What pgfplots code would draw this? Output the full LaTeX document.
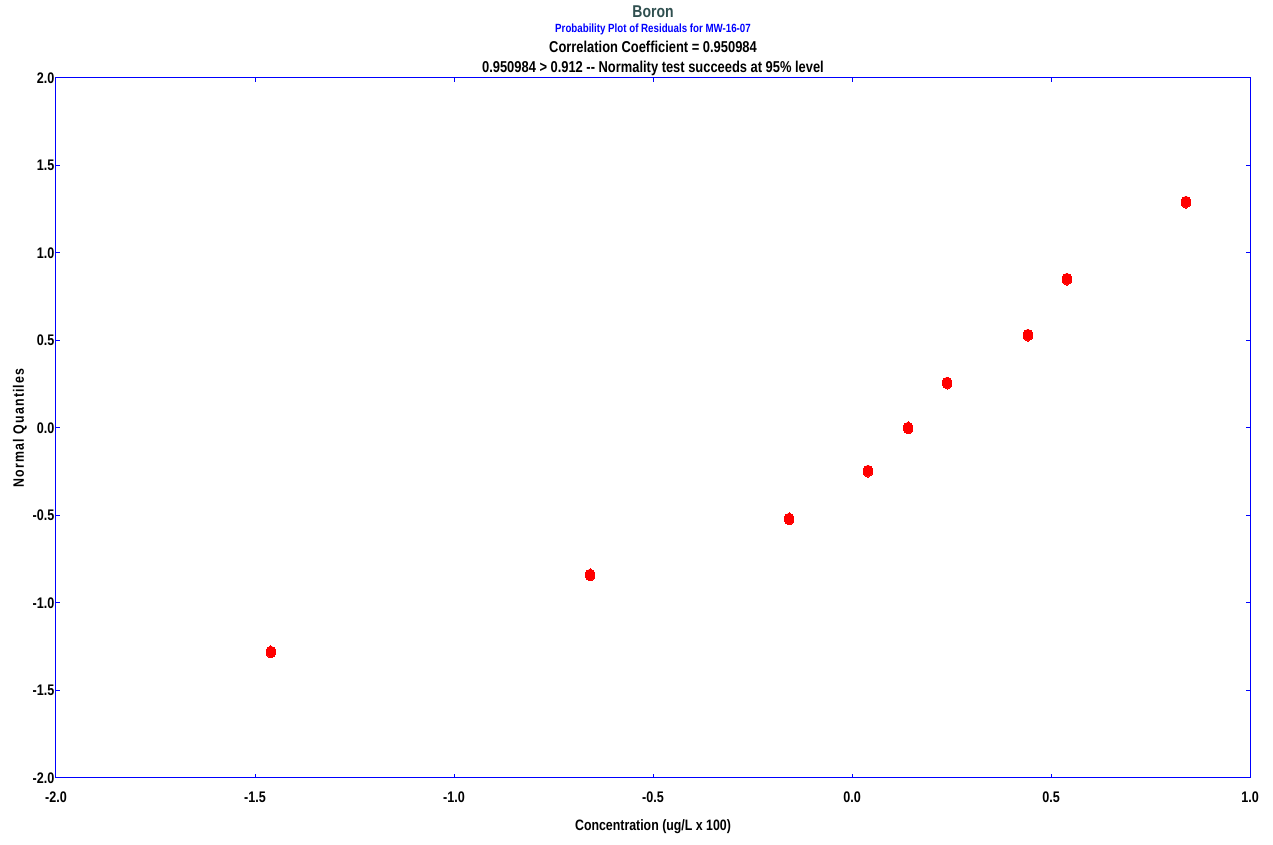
\documentclass[border=0pt]{standalone}
\usepackage{fontspec}
\setmainfont{Liberation Sans}[FakeStretch=0.82]
\newfontfamily\spacedfont{Liberation Sans}[FakeStretch=0.82, LetterSpace=8]
\usepackage{pgfplots}
\pgfplotsset{compat=1.18}
\definecolor{titlegray}{RGB}{47,79,79}
\definecolor{axisblue}{RGB}{0,0,255}

\begin{document}
\begin{tikzpicture}
\begin{axis}[
  scale only axis,
  width=895.5pt, height=525pt,
  xmin=-2, xmax=1, ymin=-2, ymax=2,
  xtick distance=0.5, ytick distance=0.5,
  axis line style={axisblue, line width=0.75pt},
  tick style={axisblue, line width=0.75pt},
  major tick length=3pt,
  tick align=inside,
  /pgf/number format/assume math mode=true,
  /pgf/number format/.cd, fixed, fixed zerofill, precision=1, /pgfplots/.cd,
  ticklabel style={font=\fontsize{11.5}{13}\selectfont\bfseries},
  yticklabel style={inner sep=1pt},
  xticklabel style={yshift=-7pt},
  xlabel={Concentration (ug/L x 100)},
  ylabel={Normal Quantiles},
  xlabel style={font=\fontsize{11.3}{13}\selectfont\bfseries,
    at={(axis description cs:0.5,-0.07)}, anchor=center},
  ylabel style={font=\fontsize{11.3}{13}\spacedfont\bfseries,
    at={(axis description cs:-0.0302,0.5)}, anchor=center},
  clip=false,
]
\addplot[only marks, mark=*, color=red, mark size=3.6pt,
  mark options={yscale=1.25, fill=red, draw=red, line width=0pt}] coordinates {
  (-1.460,-1.28) (-0.658,-0.84) (-0.158,-0.52) (0.040,-0.246)
  (0.141,0.0) (0.239,0.257) (0.442,0.531) (0.540,0.851) (0.839,1.291)
};
\node[text=titlegray, font=\fontsize{12.8}{14}\selectfont\bfseries]
  at (axis description cs:0.5,1.0943) {Boron};
\node[text=blue, font=\fontsize{8.9}{10}\selectfont\bfseries]
  at (axis description cs:0.5,1.07) {Probability Plot of Residuals for MW-16-07};
\node[font=\fontsize{11.8}{13}\selectfont\bfseries]
  at (axis description cs:0.5,1.0443) {Correlation Coefficient = 0.950984};
\node[font=\fontsize{11.8}{13}\selectfont\bfseries]
  at (axis description cs:0.5,1.0143) {0.950984 > 0.912 -{}- Normality test succeeds at 95\% level};
\end{axis}
\pgfresetboundingbox
\path[use as bounding box] ([xshift=-42pt,yshift=-50.25pt]current axis.south west)
  rectangle ([xshift=17.25pt,yshift=58.5pt]current axis.north east);
\end{tikzpicture}
\end{document}
